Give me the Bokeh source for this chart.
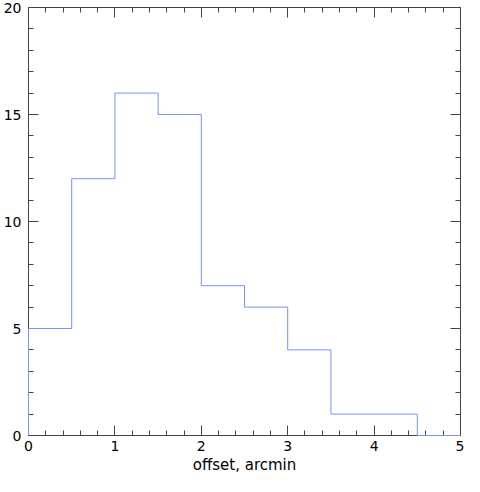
from bokeh.plotting import figure
from bokeh.models import Range1d, LinearAxis, SingleIntervalTicker
from bokeh.embed import file_html
from bokeh.resources import INLINE

# Histogram data
bin_edges = [0.0, 0.5, 1.0, 1.5, 2.0, 2.5, 3.0, 3.5, 4.0, 4.5, 5.0]
counts = [5, 12, 16, 15, 7, 6, 4, 1, 1, 0]
x_ticks_interval = 1
y_ticks_interval = 5
x_label = "offset, arcmin"

# build step path from edges and counts
xs, ys = [bin_edges[0]], [0]
for i, c in enumerate(counts):
    xs += [bin_edges[i], bin_edges[i + 1]]
    ys += [c, c]

FONT = "DejaVu Sans"
AX_COLOR = "#444444"

p = figure(width=464, height=476, output_backend="svg", toolbar_location=None,
           x_range=Range1d(0, 5), y_range=Range1d(0, 20),
           min_border_left=20, min_border_right=4, min_border_top=7, min_border_bottom=0)
p.grid.visible = False
p.outline_line_color = None
p.background_fill_color = "white"
p.border_fill_color = "white"

p.line(xs, ys, line_color="#7b8cff", line_width=1, level="overlay")

def style(ax, labels=True):
    ax.axis_line_color = AX_COLOR
    ax.axis_line_width = 1
    ax.major_tick_line_color = AX_COLOR
    ax.minor_tick_line_color = AX_COLOR
    ax.major_tick_in = 10
    ax.major_tick_out = 0
    ax.minor_tick_in = 5
    ax.minor_tick_out = 0
    ax.major_label_text_font = FONT
    ax.major_label_text_font_size = "14px"
    ax.major_label_text_color = "black"
    ax.major_label_standoff = 5
    if not labels:
        ax.major_label_text_font_size = "0px"
        ax.major_label_text_alpha = 0

xt = SingleIntervalTicker(interval=x_ticks_interval, num_minor_ticks=5)
yt = SingleIntervalTicker(interval=y_ticks_interval, num_minor_ticks=5)

p.xaxis.ticker = xt
p.yaxis.ticker = yt
for ax in p.xaxis + p.yaxis:
    style(ax)
p.xaxis.axis_label = x_label
p.xaxis.axis_label_text_font = FONT
p.xaxis.axis_label_text_font_size = "15px"
p.xaxis.axis_label_text_font_style = "normal"
p.xaxis.axis_label_text_color = "black"
p.xaxis.axis_label_standoff = 2
p.yaxis.major_label_standoff = 7

top = LinearAxis(ticker=SingleIntervalTicker(interval=x_ticks_interval, num_minor_ticks=5))
style(top, labels=False)
top.major_label_standoff = 0
p.add_layout(top, "above")
right = LinearAxis(ticker=SingleIntervalTicker(interval=y_ticks_interval, num_minor_ticks=5))
style(right, labels=False)
right.major_label_standoff = 0
p.add_layout(right, "right")

open("out.html", "w").write(file_html(p, INLINE))
